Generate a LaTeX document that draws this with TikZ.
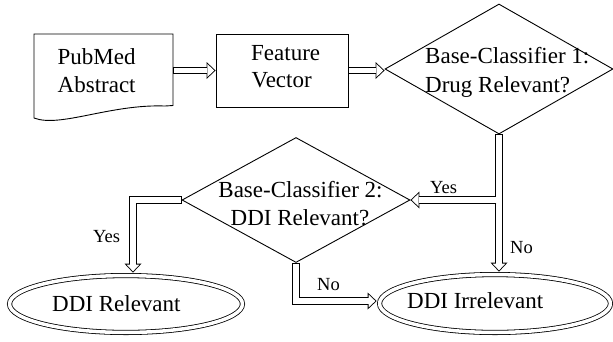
\documentclass[tikz,border=0pt]{standalone}
\usepackage{fontspec}
\setmainfont{Liberation Serif}
\usetikzlibrary{shapes.geometric,arrows.meta,calc}
\tikzset{
  outline/.style={draw, line width=0.9pt},
  boxshape/.style={outline, rectangle, inner sep=0pt},
  diashape/.style={outline, diamond, inner sep=0pt},
  ellshape/.style={draw, ellipse, inner sep=0pt, line width=0.8pt, double, double distance=3.5pt},
  ghost/.style={rectangle, inner sep=0pt},
  txt/.style={inner sep=0pt, font=\fontsize{23}{28}\selectfont},
  lab/.style={inner sep=0pt, font=\fontsize{18.5}{22}\selectfont},
  harrow/.style={line width=7.3pt, shorten >=#1,
    -{Triangle[length=9pt,width=17pt,line width=0pt]},
    postaction={draw=white, line width=5.5pt, shorten <=0.9pt, shorten >=#1+1.31pt,
      -{Triangle[length=6.79pt,width=12.83pt,line width=0pt]}}},
  harrow/.default=0pt,
  hbranch/.style={line width=7.3pt, shorten >=#1,
    -{Triangle[length=9pt,width=17pt,line width=0pt]},
    postaction={draw=white, line width=5.5pt, shorten >=#1+1.31pt,
      -{Triangle[length=6.79pt,width=12.83pt,line width=0pt]}}},
  hbranch/.default=0pt
}
\begin{document}
\begin{tikzpicture}[x=1pt,y=-1pt]
\useasboundingbox (0,0) rectangle (613,341);
% document shape
\node[ghost, minimum width=139pt, minimum height=84pt] (doc) at (103.5,76) {};
\draw[line width=0.9pt] (34,34) -- (173,34) -- (173,105.5) -- (165,106)
  .. controls (110,104) and (60,128) .. (34,118) -- cycle;
\node[txt, anchor=base west] (docA) at (57.5,64) {PubMed};
\node[txt, anchor=base west] (docB) at (57.5,92) {Abstract};
% feature vector
\node[boxshape, minimum width=132pt, minimum height=73pt] (fv) at (282,70.5) {};
\node[txt, anchor=base west] (fvA) at (251,60) {Feature};
\node[txt, anchor=base west] (fvB) at (251.5,87) {Vector};
% diamond 1
\node[diashape, minimum width=228pt, minimum height=130pt] (d1) at (499,69) {};
\node[txt, anchor=base west] (d1A) at (425,63) {Base-Classifier 1:};
\node[txt, anchor=base west] (d1B) at (425,92) {Drug Relevant?};
% diamond 2
\node[diashape, minimum width=228pt, minimum height=125pt] (d2) at (296,200) {};
\node[txt, anchor=base] (d2A) at (300.5,197) {Base-Classifier 2:};
\node[txt, anchor=base] (d2B) at (300,225) {DDI Relevant?};
% ellipses
\node[ellshape, minimum width=232.9pt, minimum height=56.9pt] (e1) at (126,304) {};
\node[txt, anchor=base west] (e1t) at (52,311) {DDI Relevant};
\node[ellshape, minimum width=230.9pt, minimum height=57.9pt] (e2) at (495,303.5) {};
\node[txt, anchor=base west] (e2t) at (407,308) {DDI Irrelevant};
% connectors
\draw[harrow] (doc.east |- fv.west) -- (fv.west);
\draw[harrow] (fv.east) -- (fv.east -| d1.west);
\draw[harrow=2.5pt] (d1.south) -- (d1.south |- e2.north);
\draw[hbranch] ([xshift=-2.75pt]d1.south |- d2.east) -- (d2.east);
\draw[harrow=2.5pt] (d2.west) -| ([xshift=7pt]e1.north);
\draw[harrow=2.5pt] (d2.south) |- ([yshift=2.5pt]e2.west);
% labels
\node[lab, anchor=base west] (y1) at (430,193) {Yes};
\node[lab, anchor=base west] (n1) at (510,253) {No};
\node[lab, anchor=base west] (y2) at (93,242) {Yes};
\node[lab, anchor=base west] (n2) at (317,290) {No};
\end{tikzpicture}
\end{document}
